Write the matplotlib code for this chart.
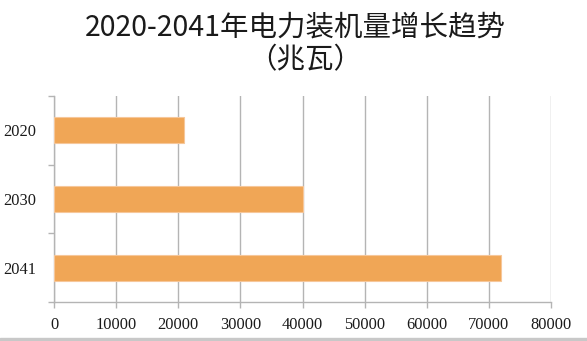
import matplotlib
matplotlib.use("Agg")
import matplotlib.pyplot as plt
from matplotlib.patches import Rectangle

# data
years = ["2020", "2030", "2041"]
capacity_mw = [20900, 40000, 72000]
x_ticks = [0, 10000, 20000, 30000, 40000, 50000, 60000, 70000, 80000]

title_line1 = "2020-2041年电力装机量增长趋势"
title_line2 = "（兆瓦）"

bar_color = "#F0A656"
grid_color = "#B4B4B4"

fig = plt.figure(figsize=(5.87, 3.41), dpi=100)
ax = fig.add_axes([0.092, 0.1144, 0.8467, 0.6041])

ypos = list(range(len(years)))
ax.barh(ypos, capacity_mw, height=0.38, color=bar_color,
        edgecolor="#F6C79A", linewidth=0.8, zorder=3)

ax.set_xlim(0, 80000)
ax.set_ylim(len(years) - 0.5, -0.5)
ax.set_xticks(x_ticks)
ax.set_xticklabels([str(v) for v in x_ticks])
ax.set_yticks(ypos)
ax.set_yticklabels(years)
ax.set_yticks([i - 0.5 for i in range(len(years) + 1)], minor=True)

ax.grid(axis="x", color=grid_color, linewidth=1.0, zorder=0)
ax.tick_params(axis="y", which="major", length=0, pad=13)
ax.tick_params(axis="y", which="minor", length=4, color=grid_color, width=1)
ax.tick_params(axis="x", length=4, color=grid_color, width=1, pad=7)
for lab in ax.get_xticklabels() + ax.get_yticklabels():
    lab.set_family("Liberation Serif")
    lab.set_fontsize(11.8)
    lab.set_color("#1a1a1a")

for side in ["top", "right"]:
    ax.spines[side].set_visible(False)
for side in ["left", "bottom"]:
    ax.spines[side].set_color(grid_color)
    ax.spines[side].set_linewidth(1.0)

fig.text(0.503, 0.92, title_line1, ha="center", va="center",
         family=["Noto Sans CJK SC", "DejaVu Sans"], fontsize=20.5,
         fontweight="light", color="#1a1a1a")
fig.text(0.52, 0.824, title_line2, ha="center", va="center",
         family=["Noto Sans CJK SC", "DejaVu Sans"], fontsize=20.5,
         fontweight="light", color="#1a1a1a")

# grey strip along the bottom edge
fig.patches.append(Rectangle((0, 0), 1, 0.009, transform=fig.transFigure,
                             color="#C8C8C8", zorder=0))

fig.savefig("out.png", dpi=100)
